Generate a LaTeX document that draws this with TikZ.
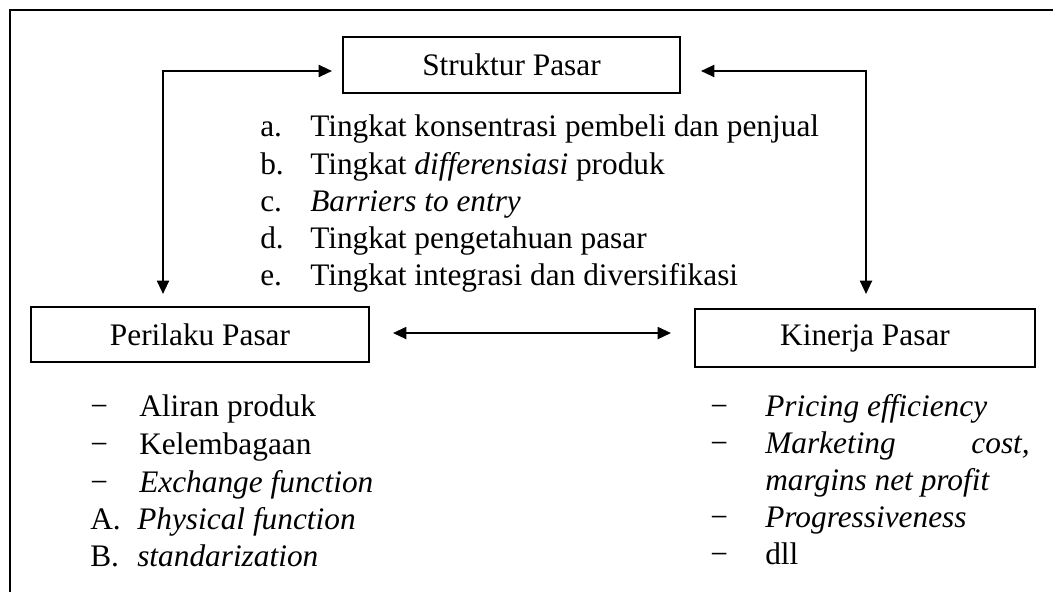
\documentclass[tikz,border=0pt]{standalone}
\usepackage{fontspec}
\setmainfont{Liberation Serif}
\usetikzlibrary{arrows.meta}
\begin{document}
\begin{tikzpicture}[x=0.75pt,y=-0.75pt,
  frame/.style={line width=2.2pt},
  boxnode/.style={draw,line width=1.5pt,rectangle,inner sep=0pt,font=\fontsize{23.5pt}{28pt}\selectfont},
  conn/.style={line width=1.5pt,{Triangle[length=10pt,width=9pt]}-{Triangle[length=10pt,width=9pt]}},
  txt/.style={anchor=base west,inner sep=0pt,font=\fontsize{23.5pt}{28pt}\selectfont},
  txte/.style={anchor=base east,inner sep=0pt,font=\fontsize{23.5pt}{28pt}\selectfont}]
\useasboundingbox (0,0) rectangle (1053,592);
% outer frame (only top and left edges visible)
\draw[frame] (1060,10) -- (10,10) -- (10,600);
% boxes
\node[boxnode,minimum width=252.75pt,minimum height=42pt] (struktur) at (511.5,65) {Struktur Pasar};
\node[boxnode,minimum width=253.5pt,minimum height=41.25pt] (perilaku) at (200,334.5) {Perilaku Pasar};
\node[boxnode,minimum width=255pt,minimum height=43.5pt] (kinerja) at (865,338) {Kinerja Pasar};
% connectors
\coordinate (pe) at ([xshift=17.25pt,yshift=1.1pt]perilaku.east);
\coordinate (kw) at ([xshift=-17.25pt]kinerja.west);
\draw[conn] ([xshift=-7.5pt,yshift=-4.5pt]struktur.west) -| ([xshift=-27.75pt,yshift=9pt]perilaku.north);
\draw[conn] ([xshift=15pt,yshift=-4.5pt]struktur.east) -| ([xshift=0.75pt,yshift=10.5pt]kinerja.north);
\draw[conn] (pe) -- (pe -| kw);
% struktur list
\node[txt] (sa) at (260,137) {a.};
\node[txt] (sat) at (310,137) {Tingkat konsentrasi pembeli dan penjual};
\node[txt] (sb) at (260,174) {b.};
\node[txt] (sbt) at (310,174) {Tingkat \textit{differensiasi} produk};
\node[txt] (sc) at (260,211) {c.};
\node[txt] (sct) at (310,211) {\textit{Barriers to entry}};
\node[txt] (sd) at (260,248) {d.};
\node[txt] (sdt) at (310,248) {Tingkat pengetahuan pasar};
\node[txt] (se) at (260,285) {e.};
\node[txt] (set) at (310,285) {Tingkat integrasi dan diversifikasi};
% perilaku list
\node[txt] (pa) at (90,416) {−};
\node[txt] (pat) at (139,416) {Aliran produk};
\node[txt] (pb) at (90,454) {−};
\node[txt] (pbt) at (139,454) {Kelembagaan};
\node[txt] (pc) at (90,492) {−};
\node[txt] (pct) at (139,492) {\textit{Exchange function}};
\node[txt] (pd) at (90,529) {A.};
\node[txt] (pdt) at (137,529) {\textit{Physical function}};
\node[txt] (pB) at (90,566) {B.};
\node[txt] (pet) at (137,566) {\textit{standarization}};
% kinerja list
\node[txt] (ka) at (710,416) {−};
\node[txt] (kat) at (765,416) {\textit{Pricing efficiency}};
\node[txt] (kb) at (710,453) {−};
\node[txt] (kbt) at (765,453) {\textit{Marketing}};
\node[txte] (kbc) at (1030,453) {\textit{cost,}};
\node[txt] (kbt2) at (765,490) {\textit{margins net profit}};
\node[txt] (kc) at (710,527) {−};
\node[txt] (kct) at (765,527) {\textit{Progressiveness}};
\node[txt] (kd) at (710,564) {−};
\node[txt] (kdt) at (765,564) {dll};
\end{tikzpicture}
\end{document}
